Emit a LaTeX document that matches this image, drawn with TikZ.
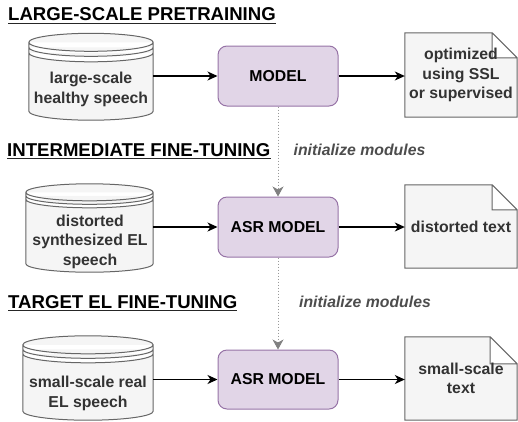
\documentclass[tikz,border=0pt]{standalone}
\usepackage{fontspec}
\setmainfont{Liberation Sans}
\usetikzlibrary{arrows.meta,calc}
\definecolor{dsfill}{HTML}{F5F5F5}
\definecolor{dsline}{HTML}{666666}
\definecolor{mfill}{HTML}{E1D5E7}
\definecolor{mline}{HTML}{9673A6}
\definecolor{txt}{HTML}{333333}
\definecolor{initc}{HTML}{4D4D4D}
\definecolor{dotc}{HTML}{999999}
\definecolor{dothead}{HTML}{808080}
\pgfdeclarelayer{background}
\pgfsetlayers{background,main}
\newcommand\dstore[4]{%
  \filldraw[dsty] let \p1=(#1.north west), \p2=(#1.south east), \n1={(\x2-\x1)/2} in
   (\x1,\y1-#2pt) arc[start angle=180,end angle=0,x radius=\n1,y radius=#2pt]
     -- (\x2,\y2+#2pt) arc[start angle=0,end angle=-180,x radius=\n1,y radius=#2pt] -- cycle
   (\x1,\y1-#2pt) arc[start angle=180,end angle=360,x radius=\n1,y radius=#2pt]
   (\x1,\y1-#2pt-#3pt) arc[start angle=180,end angle=360,x radius=\n1,y radius=#2pt]
   (\x1,\y1-#2pt-#4pt) arc[start angle=180,end angle=360,x radius=\n1,y radius=#2pt];
}
\newcommand\docshape[2]{%
  \filldraw[dsty] let \p1=(#1.north west), \p2=(#1.south east) in
   (\x1,\y1) -- (\x2-#2pt,\y1) -- (\x2,\y1-#2pt) -- (\x2,\y2) -- (\x1,\y2) -- cycle
   (\x2-#2pt,\y1) -- (\x2-#2pt,\y1-#2pt) -- (\x2,\y1-#2pt);
}
\begin{document}
\begin{tikzpicture}[x=1pt,y=1pt,
  title/.style={font=\fontsize{18.6}{22}\selectfont\bfseries, anchor=base west, inner sep=0},
  uline/.style={line width=1.2pt, black!85},
  model/.style={draw=mline, fill=mfill, rounded corners=9pt, line width=1pt,
    minimum width=120pt, minimum height=60pt, inner sep=0,
    font=\fontsize{15.8}{19.5}\selectfont\bfseries, text=black},
  holder/.style={inner sep=0, minimum width=#1},
  body/.style={font=\fontsize{15.8}{19.5}\selectfont\bfseries, text=txt, align=center, inner sep=0},
  dsty/.style={fill=dsfill, draw=dsline, line width=1pt},
  initsty/.style={font=\fontsize{15.8}{19}\selectfont\bfseries\itshape, text=initc, inner sep=0},
  arr/.style={line width=1.3pt, -{Stealth[length=10pt,width=9pt,inset=3pt]}},
  dotarr/.style={draw=dotc, line width=0.9pt, dash pattern=on 1.5pt off 1.5pt,
    -{Stealth[length=10pt,width=11pt,inset=3pt,fill=dothead,color=dothead]}}
]
\useasboundingbox (0,0) rectangle (518,-421);

% titles
\node[title] (t1) at (8,-20.7) {LARGE-SCALE PRETRAINING};
\draw[uline] ([yshift=-2.8pt]t1.base west) -- ([yshift=-2.8pt]t1.base east);
\node[title] (t2) at (7,-156) {INTERMEDIATE FINE-TUNING};
\draw[uline] ([yshift=-2.8pt]t2.base west) -- ([yshift=-2.8pt]t2.base east);
\node[title] (t3) at (8,-308) {TARGET EL FINE-TUNING};
\draw[uline] ([yshift=-2.8pt]t3.base west) -- ([yshift=-2.8pt]t3.base east);

% cylinders (holders)
\node[holder=124pt, minimum height=86.5pt] (c1) at (91,-76.75) {};
\node[holder=127pt, minimum height=88pt] (c2) at (89.5,-228) {};
\node[holder=130pt, minimum height=84pt] (c3) at (88,-378) {};
\node[body] (c1t) at (91,-89.5) {large-scale\\healthy speech};
\node[body] (c2t) at (90,-241.5) {distorted\\synthesized EL\\speech};
\node[body] (c3t) at (88,-393.5) {small-scale real\\EL speech};

% models
\node[model] (m1) at (278,-76) {MODEL};
\node[model] (m2) at (278,-227) {ASR MODEL};
\node[model, minimum height=59pt] (m3) at (278,-379.5) {ASR MODEL};

% documents
\node[holder=112pt, minimum height=84pt, body] (d1) at (461,-75) {optimized\\using SSL\\or supervised};
\node[holder=112pt, minimum height=83pt, body] (d2) at (461,-226.5) {distorted text};
\node[holder=112pt, minimum height=83pt, body] (d3) at (461,-378.5) {small-scale\\text};

\begin{pgfonlayer}{background}
\dstore{c1}{9}{5}{10.5}
\dstore{c2}{8.5}{3.5}{7}
\dstore{c3}{9}{4.5}{9}
\docshape{d1}{25}
\docshape{d2}{25}
\docshape{d3}{27}
\end{pgfonlayer}

% init labels
\node[initsty] (i1) at (359.5,-150) {initialize modules};
\node[initsty] (i2) at (365,-302) {initialize modules};

% connectors
\draw[arr] (c1.east |- m1.west) -- (m1.west);
\draw[arr] (m1.east) -- (m1.east -| d1.west);
\draw[arr] (c2.east |- m2.west) -- (m2.west);
\draw[arr] (m2.east) -- (m2.east -| d2.west);
\draw[arr] (c3.east |- m3.west) -- (m3.west);
\draw[arr] (m3.east) -- (m3.east -| d3.west);
\draw[dotarr] (m1.south) -- (m2.north);
\draw[dotarr] (m2.south) -- (m3.north);
\end{tikzpicture}
\end{document}
